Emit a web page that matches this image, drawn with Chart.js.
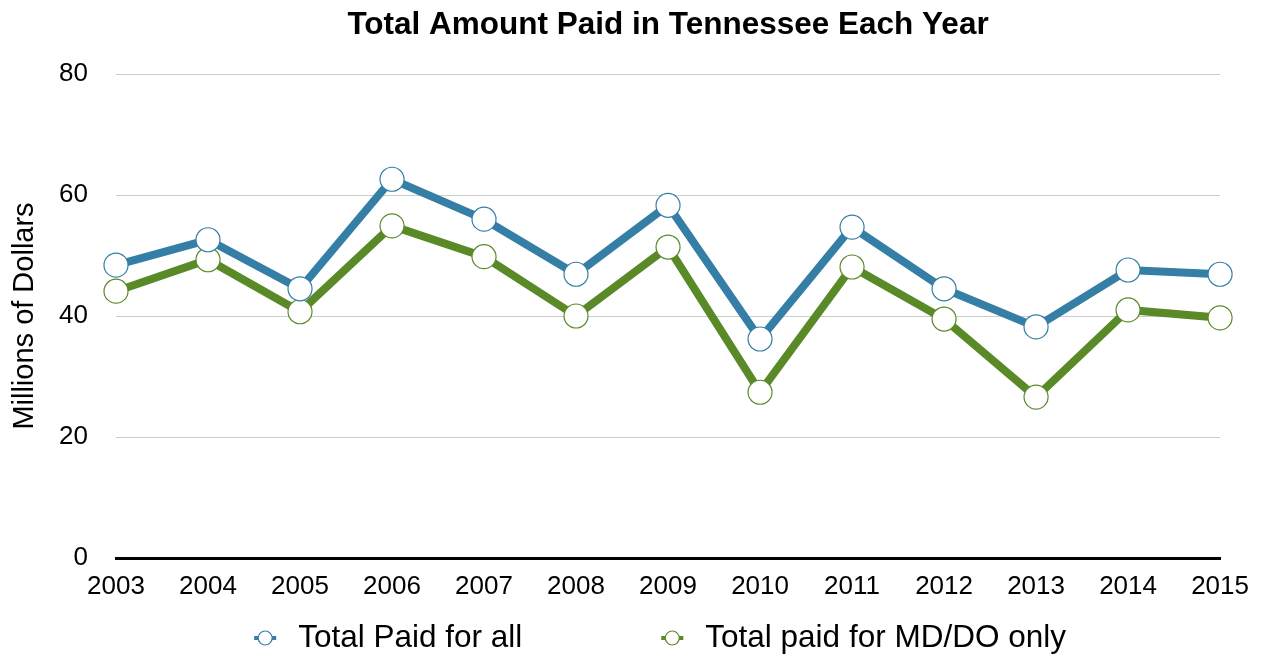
<!DOCTYPE html>
<html>
<head>
<meta charset="utf-8">
<script src="https://cdn.jsdelivr.net/npm/chart.js@4"></script>
<style>
  html, body { margin: 0; padding: 0; background: #fff; }
  #wrap { width: 1262px; height: 656px; }
</style>
</head>
<body>
<div id="wrap"><canvas id="myChart"></canvas></div>
<script>
let years = ['2003', '2004', '2005', '2006', '2007', '2008', '2009', '2010', '2011', '2012', '2013', '2014', '2015'];
let paidAll = [48.4, 52.6, 44.5, 62.6, 56.0, 46.9, 58.3, 36.2, 54.7, 44.5, 38.2, 47.6, 46.9];
let paidMdDo = [44.1, 49.3, 40.7, 54.9, 49.8, 40.0, 51.4, 27.4, 48.1, 39.5, 26.6, 41.0, 39.7];
let seriesNames = ['Total Paid for all', 'Total paid for MD/DO only'];
let yTicks = [0, 20, 40, 60, 80];
let chartTitle = 'Total Amount Paid in Tennessee Each Year';

let blue = '#357ea5';
let green = '#5a8a28';
let fontFamily = '"Liberation Sans", Arial, Helvetica, sans-serif';

function lineSet(label, data, color) {
  return {
    label: label,
    data: data,
    borderColor: color,
    backgroundColor: '#fff',
    borderWidth: 8,
    tension: 0,
    pointRadius: 12,
    pointHoverRadius: 12,
    pointBackgroundColor: '#fff',
    pointBorderColor: color,
    pointBorderWidth: 1.2
  };
}

// title centred over the plot area, not the whole canvas
let plotTitle = {
  id: 'plotTitle',
  afterDraw: (chart) => {
    let c = chart.ctx;
    let area = chart.chartArea;
    c.save();
    c.fillStyle = '#000';
    c.font = 'bold 31.5px ' + fontFamily;
    c.textAlign = 'center';
    c.textBaseline = 'middle';
    c.fillText(chartTitle, (area.left + area.right) / 2, 25);
    c.restore();
  }
};

// legend with a line stub through each marker, spaced wide like the original
let lineLegend = {
  id: 'lineLegend',
  afterDraw: (chart) => {
    let c = chart.ctx;
    let area = chart.chartArea;
    let y = 638;
    let gapAfterText = 139;
    c.save();
    c.font = '31.5px ' + fontFamily;
    c.textBaseline = 'middle';
    let widths = chart.data.datasets.map(ds => c.measureText(ds.label).width);
    let markerW = 22, textGap = 22;
    let total = 0;
    widths.forEach((w, i) => { total += markerW + textGap + w + (i < widths.length - 1 ? gapAfterText : 0); });
    let x = (area.left + area.right) / 2 - 8 - total / 2;
    chart.data.datasets.forEach((ds, i) => {
      let cx = x + markerW / 2;
      c.strokeStyle = ds.borderColor;
      c.lineWidth = 4;
      c.beginPath();
      c.moveTo(x, y);
      c.lineTo(x + markerW, y);
      c.stroke();
      c.beginPath();
      c.arc(cx, y, 7, 0, Math.PI * 2);
      c.fillStyle = '#fff';
      c.fill();
      c.lineWidth = 1.2;
      c.stroke();
      c.fillStyle = '#000';
      c.textAlign = 'left';
      c.fillText(ds.label, x + markerW + textGap, y);
      x += markerW + textGap + widths[i] + gapAfterText;
    });
    c.restore();
  }
};

let ctx = document.getElementById('myChart').getContext('2d');

let myChart = new Chart(ctx, {
  type: 'line',
  data: {
    labels: years,
    datasets: [
      lineSet(seriesNames[0], paidAll, blue),
      lineSet(seriesNames[1], paidMdDo, green)
    ]
  },
  options: {
    responsive: true,
    maintainAspectRatio: false,
    animation: false,
    layout: {
      padding: { left: 0, right: 40, top: 74, bottom: 52 }
    },
    plugins: {
      title: { display: false },
      legend: { display: false },
      tooltip: { enabled: false }
    },
    scales: {
      x: {
        offset: false,
        grid: { display: false, drawTicks: false },
        border: { display: true, color: '#000', width: 3 },
        ticks: {
          color: '#000',
          font: { family: fontFamily, size: 26 },
          padding: 13,
          maxRotation: 0,
          autoSkip: false
        },
        afterFit: (scale) => { scale.height = 46; }
      },
      y: {
        min: 0,
        max: 80,
        afterBuildTicks: (scale) => {
          scale.ticks = yTicks.map(v => ({ value: v }));
        },
        grid: { color: '#cccccc', lineWidth: 1, drawTicks: false },
        border: { display: false },
        ticks: {
          color: '#000',
          font: { family: fontFamily, size: 26 },
          padding: 28
        },
        title: {
          display: true,
          text: 'Millions of Dollars',
          color: '#000',
          font: { family: fontFamily, size: 29 },
          padding: { top: 8, bottom: 8 }
        },
        afterFit: (scale) => { scale.width = 116; }
      }
    }
  },
  plugins: [plotTitle, lineLegend]
});
</script>
</body>
</html>
